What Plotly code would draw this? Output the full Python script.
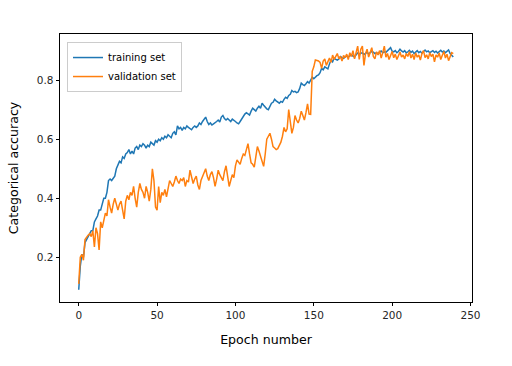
import plotly.graph_objects as go

epochs = list(range(240))

training_acc = [
    0.09, 0.17, 0.21, 0.20, 0.25, 0.26, 0.27, 0.28, 0.29, 0.29,
    0.32, 0.33, 0.34, 0.36, 0.36, 0.38, 0.40, 0.40, 0.42, 0.46,
    0.465, 0.46, 0.47, 0.475, 0.50, 0.51, 0.525, 0.52, 0.54, 0.535,
    0.55, 0.555, 0.565, 0.55, 0.56, 0.55, 0.57, 0.575, 0.565, 0.58,
    0.575, 0.585, 0.58, 0.57, 0.58, 0.575, 0.59, 0.585, 0.58, 0.595,
    0.59, 0.60, 0.595, 0.605, 0.60, 0.61, 0.605, 0.615, 0.61, 0.605,
    0.62, 0.625, 0.615, 0.645, 0.635, 0.64, 0.63, 0.64, 0.635, 0.645,
    0.64, 0.635, 0.632, 0.64, 0.645, 0.64, 0.645, 0.655, 0.65, 0.66,
    0.67, 0.675, 0.66, 0.65, 0.655, 0.648, 0.652, 0.655, 0.66, 0.665,
    0.658, 0.675, 0.68, 0.67, 0.665, 0.67, 0.665, 0.66, 0.668, 0.665,
    0.66, 0.655, 0.652, 0.66, 0.67, 0.675, 0.685, 0.69, 0.685, 0.682,
    0.695, 0.705, 0.70, 0.695, 0.705, 0.712, 0.705, 0.722, 0.715, 0.708,
    0.703, 0.70, 0.71, 0.722, 0.725, 0.735, 0.73, 0.725, 0.722, 0.728,
    0.725, 0.735, 0.742, 0.738, 0.748, 0.752, 0.765, 0.76, 0.762, 0.758,
    0.76, 0.772, 0.79, 0.785, 0.782, 0.788, 0.795, 0.79, 0.80, 0.81,
    0.805, 0.812, 0.815, 0.818, 0.825, 0.84, 0.835, 0.845, 0.84, 0.838,
    0.855, 0.868, 0.862, 0.875, 0.87, 0.868, 0.872, 0.88, 0.876, 0.874,
    0.878, 0.882, 0.879, 0.884, 0.886, 0.881, 0.878, 0.886, 0.892, 0.888,
    0.89, 0.893, 0.887, 0.891, 0.894, 0.889, 0.892, 0.897, 0.895, 0.89,
    0.893, 0.889, 0.895, 0.899, 0.893, 0.896, 0.894, 0.899, 0.902, 0.91,
    0.898, 0.896, 0.90, 0.893, 0.897, 0.905, 0.899, 0.895, 0.90, 0.892,
    0.896, 0.901, 0.894, 0.898, 0.89, 0.896, 0.90, 0.893, 0.897, 0.891,
    0.895, 0.902, 0.896, 0.899, 0.893, 0.897, 0.90, 0.894, 0.898, 0.892,
    0.896, 0.901, 0.895, 0.899, 0.893, 0.897, 0.902, 0.89, 0.883, 0.878,
]

validation_acc = [
    0.11, 0.20, 0.21, 0.19, 0.26, 0.27, 0.275, 0.28, 0.27, 0.29,
    0.235, 0.30, 0.28, 0.225, 0.32, 0.30, 0.33, 0.35, 0.34, 0.395,
    0.37, 0.35, 0.38, 0.40, 0.38, 0.36, 0.38, 0.39, 0.36, 0.33,
    0.39, 0.41, 0.395, 0.42, 0.41, 0.44, 0.40, 0.37, 0.42, 0.45,
    0.43, 0.42, 0.40, 0.44, 0.42, 0.39, 0.43, 0.50, 0.46, 0.37,
    0.36, 0.44, 0.385, 0.42, 0.41, 0.43, 0.405, 0.44, 0.46, 0.45,
    0.44, 0.455, 0.475, 0.46, 0.45, 0.465, 0.46, 0.47, 0.44, 0.46,
    0.455, 0.495, 0.47, 0.45, 0.465, 0.475, 0.445, 0.43, 0.46, 0.475,
    0.485, 0.50, 0.475, 0.46, 0.48, 0.49, 0.47, 0.44, 0.465, 0.495,
    0.48, 0.47, 0.46, 0.49, 0.51, 0.475, 0.44, 0.46, 0.48, 0.47,
    0.51, 0.53, 0.52, 0.515, 0.535, 0.55, 0.545, 0.565, 0.585, 0.55,
    0.52, 0.515, 0.505, 0.54, 0.575, 0.56, 0.54, 0.525, 0.508, 0.55,
    0.60, 0.61, 0.62, 0.60, 0.575, 0.57, 0.565, 0.568, 0.58, 0.59,
    0.61, 0.64, 0.625, 0.635, 0.70, 0.66, 0.62, 0.64, 0.68, 0.665,
    0.655, 0.67, 0.695, 0.68, 0.665, 0.69, 0.72, 0.685, 0.684, 0.83,
    0.845, 0.868, 0.866, 0.865, 0.86, 0.84, 0.865, 0.872, 0.85, 0.862,
    0.875, 0.86, 0.885, 0.87, 0.878, 0.89, 0.872, 0.88, 0.865, 0.884,
    0.876, 0.888, 0.87, 0.893, 0.88, 0.90, 0.872, 0.898, 0.915, 0.87,
    0.905, 0.915, 0.85, 0.89, 0.905, 0.878, 0.895, 0.91, 0.88, 0.872,
    0.896, 0.885, 0.90, 0.875, 0.893, 0.915, 0.878, 0.89, 0.87, 0.885,
    0.897, 0.876, 0.888, 0.87, 0.882, 0.895, 0.878, 0.885, 0.872, 0.89,
    0.88, 0.896, 0.875, 0.888, 0.87, 0.892, 0.878, 0.885, 0.868, 0.89,
    0.90, 0.876, 0.886, 0.872, 0.893, 0.88, 0.888, 0.862, 0.885, 0.878,
    0.892, 0.87, 0.884, 0.897, 0.875, 0.888, 0.866, 0.882, 0.893, 0.89,
]

x_ticks = [0, 50, 100, 150, 200, 250]
y_ticks = [0.2, 0.4, 0.6, 0.8]
y_tick_labels = ["0.2", "0.4", "0.6", "0.8"]

assert len(training_acc) == len(epochs) == len(validation_acc)

font_family = "DejaVu Sans"

fig = go.Figure()
fig.add_trace(go.Scatter(x=epochs, y=training_acc, mode="lines", name="training set",
                         line=dict(color="#1f77b4", width=1.5)))
fig.add_trace(go.Scatter(x=epochs, y=validation_acc, mode="lines", name="validation set",
                         line=dict(color="#ff7f0e", width=1.5)))

n = len(epochs)
xpad = 0.05 * (n - 1)
ymin = min(min(training_acc), min(validation_acc))
ymax = max(max(training_acc), max(validation_acc))
ypad = 0.05 * (ymax - ymin)

axis_common = dict(
    showgrid=False, zeroline=False, showline=True, linecolor="black", linewidth=0.9,
    mirror=True, ticks="outside", ticklen=3.5, tickwidth=0.9, tickcolor="black",
    tickfont=dict(family=font_family, size=10.5, color="#262626"),
)

fig.update_layout(
    width=512, height=366,
    margin=dict(l=60, r=40, t=34, b=64),
    paper_bgcolor="white", plot_bgcolor="white",
    font=dict(family=font_family, color="black"),
    xaxis=dict(range=[-xpad, n - 1 + xpad], tickvals=x_ticks,
               title=dict(text="Epoch number", font=dict(family=font_family, size=12.6), standoff=15),
               **axis_common),
    yaxis=dict(range=[ymin - ypad, ymax + ypad], tickvals=y_ticks, ticktext=y_tick_labels,
               title=dict(text="Categorical accuracy", font=dict(family=font_family, size=12.6), standoff=15),
               **axis_common),
    legend=dict(x=0.017, y=0.97, xanchor="left", yanchor="top",
                bgcolor="rgba(255,255,255,0.8)", bordercolor="#cccccc", borderwidth=1,
                font=dict(family=font_family, size=10, color="black"),
                itemwidth=30, tracegroupgap=0),
    showlegend=True,
)

fig.write_html("out.html", config={"displayModeBar": False},
               post_script="document.body.style.margin='0px';document.body.style.padding='0px';")
